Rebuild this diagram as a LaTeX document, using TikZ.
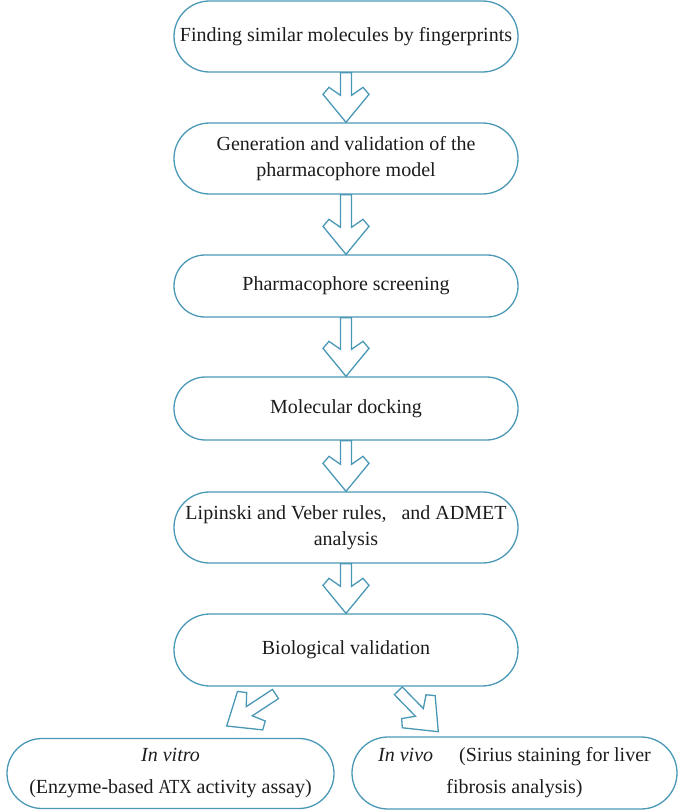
\documentclass[tikz,border=0pt]{standalone}
\usepackage{fontspec}
\setmainfont{Liberation Serif}
\usepackage{tikz}
\usetikzlibrary{calc,shapes.misc}
\definecolor{boxblue}{RGB}{74,152,181}
\definecolor{inkgray}{RGB}{28,28,28}

\newcommand{\hollowarrow}[2]{%
  \draw[arrowline] ($(#1)!5.5pt!-90:(#2)$)
    -- ($(#2)!27pt!(#1)!5.5pt!90:(#1)$)
    -- ($(#2)!35pt!(#1)!17pt!90:(#1)$)
    -- ($(#2)!28pt!(#1)!23pt!90:(#1)$)
    -- (#2)
    -- ($(#2)!28pt!(#1)!23pt!-90:(#1)$)
    -- ($(#2)!35pt!(#1)!17pt!-90:(#1)$)
    -- ($(#2)!27pt!(#1)!5.5pt!-90:(#1)$)
    -- ($(#1)!5.5pt!90:(#2)$) -- cycle;}

\begin{document}
\begin{tikzpicture}[x=1pt,y=-1pt,
    stage/.style={rounded rectangle,draw=boxblue,line width=1.3pt,minimum width=344pt,
      minimum height=71pt,inner sep=0pt,align=center,text=inkgray,
      font=\fontsize{20}{26}\selectfont},
    arrowline/.style={draw=boxblue,line width=1.3pt,line join=miter}]
        \useasboundingbox (0,0) rectangle (685,811);

        \node[stage] (fp) at (346,36.5) {Finding similar molecules by fingerprints};
        \node[stage] (pm) at (346,158.5) {Generation and validation of the\\pharmacophore model};
        \node[stage,minimum height=62pt] (ps) at (346,286) {Pharmacophore screening};
        \node[stage,minimum height=63pt] (dock) at (346,408.5) {Molecular docking};
        \node[stage] (rules) at (346,527.5) {Lipinski and Veber rules,\ \ \ and ADMET\\analysis};
        \node[stage,minimum height=72pt] (bio) at (346,650) {Biological validation};

        \node[stage,minimum width=327pt,minimum height=70pt] (vitro) at (170.5,773.5)
            {\textit{In vitro}\\[6pt](Enzyme-based \scalebox{0.85}[1]{ATX} activity assay)};
        \node[stage,minimum width=325pt,minimum height=72pt] (vivo) at (514.5,773)
            {\textit{In vivo}\hspace{1.3em}(Sirius staining for liver\\[6pt]fibrosis analysis)};

        \coordinate (vitrotail) at (275.5,694);
        \coordinate (vitrotip) at (226.7,726);
        \coordinate (vivotail) at (398.3,690.8);
        \coordinate (vivotip) at (438.3,731.7);

        \hollowarrow{fp.south}{pm.north}
        \hollowarrow{pm.south}{ps.north}
        \hollowarrow{ps.south}{dock.north}
        \hollowarrow{dock.south}{rules.north}
        \hollowarrow{rules.south}{bio.north}
        \hollowarrow{vitrotail}{vitrotip}
        \hollowarrow{vivotail}{vivotip}
    \end{tikzpicture}
\end{document}
